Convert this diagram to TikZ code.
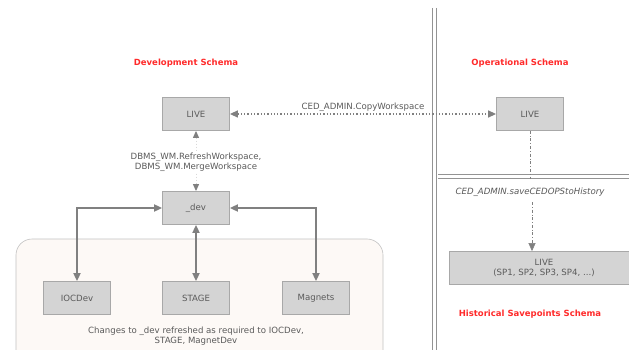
\documentclass[tikz,border=0pt]{standalone}
\usepackage{fontspec}
\setmainfont{DejaVu Sans}
\usetikzlibrary{arrows.meta}
\definecolor{boxfill}{HTML}{D4D4D4}
\definecolor{boxline}{HTML}{A8A8A8}
\definecolor{txt}{HTML}{5A5A5A}
\definecolor{arr}{HTML}{808080}
\definecolor{title}{HTML}{FF2A2A}
\definecolor{panel}{HTML}{FDF9F6}
\tikzset{
  schemabox/.style={draw=boxline, fill=boxfill, line width=0.8pt, minimum width=67pt, minimum height=33pt, inner sep=0pt, text=txt, font=\fontsize{8.6}{10.5}\selectfont, align=center},
  heading/.style={text=title, font=\fontsize{8.5}{10}\selectfont\bfseries},
  lbl/.style={text=txt, font=\fontsize{8.6}{10}\selectfont, align=center, inner sep=1pt},
  tip/.style={{Triangle[length=8pt,width=7pt]}-{Triangle[length=8pt,width=7pt]}},
  link/.style={tip, draw=arr, line width=1.8pt},
  rule/.style={draw=arr!85, line width=1pt},
}
\begin{document}
\begin{tikzpicture}[x=1pt,y=-1pt]
\useasboundingbox (0,0) rectangle (629,350);
\clip (0,0) rectangle (629,350);

% grouping panel behind the development workspaces
\draw[draw=boxline!70, fill=panel, line width=0.6pt, rounded corners=16pt] (16,239) rectangle (383,370);

% section dividers (double rules)
\draw[rule] (432.7,8) -- (432.7,360);
\draw[rule] (436.5,8) -- (436.5,360);
\draw[rule] (438,174.5) -- (632,174.5);
\draw[rule] (438,178.5) -- (632,178.5);

% headings
\node[heading] (hdev) at (186,63) {Development Schema};
\node[heading] (hop) at (520,63) {Operational Schema};
\node[heading] (hhist) at (530,314) {Historical Savepoints Schema};

% workspaces
\node[schemabox] (devlive) at (196,114) {LIVE};
\node[schemabox] (dev) at (196,208) {\_dev};
\node[schemabox] (ioc) at (77,298) {IOCDev};
\node[schemabox] (stage) at (196,298) {STAGE};
\node[schemabox] (mag) at (316,298) {Magnets};
\node[schemabox] (oplive) at (530,114) {LIVE};
\node[schemabox, minimum width=190pt] (hist) at (544,268) {LIVE\\(SP1, SP2, SP3, SP4, ...)};

% refresh / merge between LIVE and _dev
\draw[draw=arr!30, line width=1pt, dotted, {Triangle[length=7pt,width=6pt,color=arr]}-{Triangle[length=7pt,width=6pt,color=arr]}] (devlive.south) -- (dev.north);
\node[lbl, fill=white] (refresh) at (196,162) {DBMS\_WM.RefreshWorkspace,\\DBMS\_WM.MergeWorkspace};

% _dev to child workspaces
\draw[link] (dev.west) -| (ioc.north);
\draw[link] (dev.south) -- (stage.north);
\draw[link] (dev.east) -| (mag.north);
\node[lbl] (note) at (196,336) {Changes to \_dev refreshed as required to IOCDev,\\STAGE, MagnetDev};

% copy from operational LIVE
\draw[tip, draw=arr, line width=1.3pt, dotted] (devlive.east) -- (oplive.west);
\node[lbl, anchor=south] (copy) at (363,112.5) {CED\_ADMIN.CopyWorkspace};

% save to history
\coordinate (hline) at (530,178.5);
\draw[draw=arr, line width=0.6pt, dash dot] (oplive.south) -- (hline);
\node[lbl, font=\fontsize{8.6}{10}\selectfont\itshape, fill=white] (save) at (530,192) {CED\_ADMIN.saveCEDOPStoHistory};
\draw[draw=arr, line width=0.6pt, dash dot, -{Triangle[length=8pt,width=7pt]}] (532,202) -- (hist.north -| 532,0);
\end{tikzpicture}
\end{document}
